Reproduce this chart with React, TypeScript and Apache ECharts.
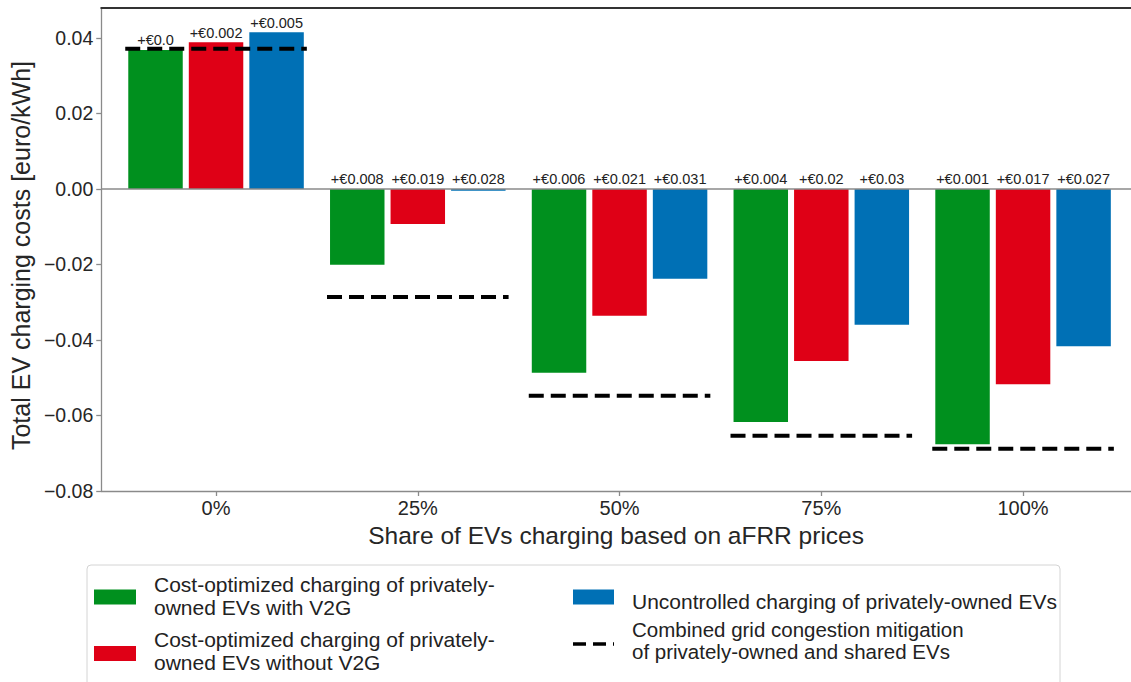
import React, { useEffect, useRef } from 'react';
import * as echarts from 'echarts';

const categories = ['0%', '25%', '50%', '75%', '100%'];
const withV2G = [0.0368, -0.0201, -0.0487, -0.0617, -0.0676];
const withoutV2G = [0.0388, -0.0093, -0.0336, -0.0456, -0.0517];
const uncontrolled = [0.0415, -0.0005, -0.0238, -0.036, -0.0417];
const combined = [0.0371, -0.0286, -0.0548, -0.0654, -0.0688];
const labelsWithV2G = ['+€0.0', '+€0.008', '+€0.006', '+€0.004', '+€0.001'];
const labelsWithoutV2G = ['+€0.002', '+€0.019', '+€0.021', '+€0.02', '+€0.017'];
const labelsUncontrolled = ['+€0.005', '+€0.028', '+€0.031', '+€0.03', '+€0.027'];
const seriesNames = [
  'Cost-optimized charging of privately-\nowned EVs with V2G',
  'Cost-optimized charging of privately-\nowned EVs without V2G',
  'Uncontrolled charging of privately-owned EVs',
  'Combined grid congestion mitigation\nof privately-owned and shared EVs',
];

const GREEN = '#00901e';
const RED = '#df0016';
const BLUE = '#0070b5';
const FONT = '"Liberation Sans", Arial, sans-serif';
const BAR_W = 0.27;
const X_MIN = -0.569;
const X_MAX = 4.535;

function barSeries(name: string, values: number[], labels: string[], color: string, offset: number, withZero: boolean) {
  const s: any = {
    type: 'custom',
    name,
    data: values.map((v, i) => [i, v]),
    encode: { x: 0, y: 1 },
    renderItem: (params: any, api: any) => {
      const x = api.value(0);
      const v = api.value(1);
      const p1 = api.coord([x + offset - BAR_W / 2, v]);
      const p2 = api.coord([x + offset + BAR_W / 2, 0]);
      const top = Math.min(p1[1], p2[1]);
      const h = Math.abs(p1[1] - p2[1]);
      const labelY = (v > 0 ? p1[1] : p2[1]) - 2;
      return {
        type: 'group',
        children: [
          { type: 'rect', shape: { x: p1[0], y: top, width: p2[0] - p1[0], height: h }, style: { fill: color } },
          {
            type: 'text',
            x: (p1[0] + p2[0]) / 2,
            y: labelY,
            style: {
              text: labels[params.dataIndex],
              align: 'center',
              verticalAlign: 'bottom',
              fontSize: 14.5,
              fontFamily: FONT,
              fill: '#222',
            },
          },
        ],
      };
    },
  };
  if (withZero) {
    s.markLine = {
      silent: true,
      symbol: 'none',
      label: { show: false },
      lineStyle: { color: '#8a8a8a', width: 1.5, type: 'solid' },
      data: [{ yAxis: 0 }],
    };
  }
  return s;
}

export default function App() {
  const ref = useRef<HTMLDivElement>(null);
  useEffect(() => {
    const chart = echarts.init(ref.current!, null, { renderer: 'svg' });
    const legendItems: any[] = [
      { type: 'rect', shape: { x: 87, y: 565, width: 973, height: 130, r: 4 }, style: { fill: '#fff', stroke: '#d4d4d4', lineWidth: 1 } },
      { type: 'rect', shape: { x: 94, y: 589.5, width: 42, height: 15 }, style: { fill: GREEN } },
      { type: 'text', x: 154, y: 596, style: { text: seriesNames[0], fontSize: 21, lineHeight: 22.5, fontFamily: FONT, fill: '#222', verticalAlign: 'middle' } },
      { type: 'rect', shape: { x: 94, y: 646, width: 42, height: 15 }, style: { fill: RED } },
      { type: 'text', x: 154, y: 651, style: { text: seriesNames[1], fontSize: 21, lineHeight: 23, fontFamily: FONT, fill: '#222', verticalAlign: 'middle' } },
      { type: 'rect', shape: { x: 573, y: 589.5, width: 41, height: 15 }, style: { fill: BLUE } },
      { type: 'text', x: 632, y: 601, style: { text: seriesNames[2], fontSize: 21, lineHeight: 22, fontFamily: FONT, fill: '#222', verticalAlign: 'middle' } },
      { type: 'line', shape: { x1: 573, y1: 644, x2: 614, y2: 644 }, style: { stroke: '#000', lineWidth: 3.5, lineDash: [13, 7] } },
      { type: 'text', x: 632, y: 640, style: { text: seriesNames[3], fontSize: 20.5, lineHeight: 22, fontFamily: FONT, fill: '#222', verticalAlign: 'middle' } },
    ];
    chart.setOption({
      animation: false,
      backgroundColor: '#fff',
      grid: { left: 100, right: 0, top: 8, bottom: 191, containLabel: false },
      xAxis: [
        {
          type: 'value',
          min: X_MIN,
          max: X_MAX,
          name: 'Share of EVs charging based on aFRR prices',
          nameLocation: 'middle',
          nameGap: 26,
          nameTextStyle: { fontSize: 24.5, fontFamily: FONT, color: '#262626' },
          axisLine: { show: true, onZero: false, lineStyle: { color: '#8a8a8a', width: 1.3 } },
          axisTick: { show: true, length: 5, customValues: [0, 1, 2, 3, 4], lineStyle: { color: '#8a8a8a', width: 1.3 } },
          axisLabel: {
            show: true,
            customValues: [0, 1, 2, 3, 4],
            margin: 7,
            fontSize: 20,
            fontFamily: FONT,
            color: '#262626',
            formatter: (v: number) => categories[Math.round(v)] ?? '',
          },
          splitLine: { show: false },
        },
        {
          type: 'value',
          position: 'top',
          min: X_MIN,
          max: X_MAX,
          axisLine: { show: true, onZero: false, lineStyle: { color: '#333', width: 2 } },
          axisTick: { show: false },
          axisLabel: { show: false },
          splitLine: { show: false },
        },
      ],
      yAxis: {
        type: 'value',
        min: -0.08,
        max: 0.0479,
        interval: 0.02,
        name: 'Total EV charging costs [euro/kWh]',
        nameLocation: 'middle',
        nameGap: 62,
        nameTextStyle: { fontSize: 25, fontFamily: FONT, color: '#262626', padding: [0, 12, 0, 0] },
        axisLine: { show: true, onZero: false, lineStyle: { color: '#8a8a8a', width: 1.3 } },
        axisTick: { show: true, length: 5, lineStyle: { color: '#8a8a8a', width: 1.3 } },
        axisLabel: {
          showMaxLabel: false,
          margin: 8,
          fontSize: 19.5,
          fontFamily: FONT,
          color: '#262626',
          formatter: (v: number) => v.toFixed(2).replace('-', '\u2212'),
        },
        splitLine: { show: false },
      },
      series: [
        barSeries(seriesNames[0], withV2G, labelsWithV2G, GREEN, -0.3, true),
        barSeries(seriesNames[1], withoutV2G, labelsWithoutV2G, RED, 0, false),
        barSeries(seriesNames[2], uncontrolled, labelsUncontrolled, BLUE, 0.3, false),
        {
          type: 'custom',
          name: seriesNames[3],
          data: combined.map((v, i) => [i, v]),
          encode: { x: 0, y: 1 },
          z: 5,
          renderItem: (params: any, api: any) => {
            const x = api.value(0);
            const v = api.value(1);
            const a = api.coord([x - 0.45, v]);
            const b = api.coord([x + 0.45, v]);
            return {
              type: 'line',
              shape: { x1: a[0], y1: a[1], x2: b[0], y2: b[1] },
              style: { stroke: '#000', lineWidth: 4, lineDash: [15, 7] },
            };
          },
        },
      ],
      graphic: legendItems,
    });
    return () => chart.dispose();
  }, []);
  return <div ref={ref} style={{ position: 'fixed', left: 0, top: 0, width: 1131, height: 682 }} />;
}
